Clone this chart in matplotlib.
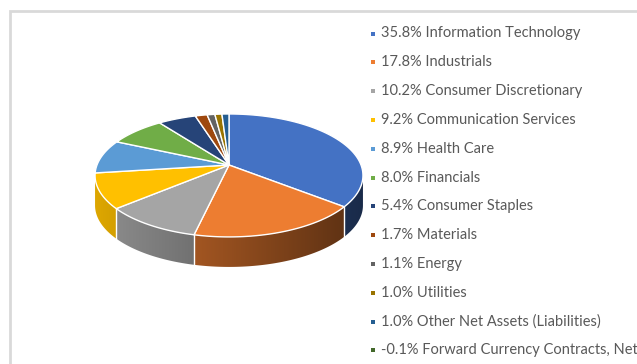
import matplotlib.pyplot as plt
import numpy as np
from matplotlib.colors import to_rgb
from matplotlib.patches import Polygon

# sector weights (%)
sectors = ['Information Technology', 'Industrials', 'Consumer Discretionary',
           'Communication Services', 'Health Care', 'Financials',
           'Consumer Staples', 'Materials', 'Energy', 'Utilities',
           'Other Net Assets (Liabilities)', 'Forward Currency Contracts, Net']
weights = [35.8, 17.8, 10.2, 9.2, 8.9, 8.0, 5.4, 1.7, 1.1, 1.0, 1.0, -0.1]
colors = ['#4472C4', '#ED7D31', '#A5A5A5', '#FFC000', '#5B9BD5', '#70AD47',
          '#264478', '#9E480E', '#636363', '#997300', '#255E91', '#43682B']

W, H = 637, 364
fig = plt.figure(figsize=(W / 100, H / 100), dpi=100)
ax = fig.add_axes([0, 0, 1, 1])

# pie geometry in pixels (tilted disc with a bit of perspective)
CX, CY = 229, 165
RX, RY = 132, 59.7
K = 0.17
DEPTH = 30


def rim(theta):
    u = np.sin(theta)
    v = -np.cos(theta)
    w = 1 - K * v
    return CX + RX * u / w, CY + RY * v / w


vals = np.clip(np.array(weights), 0, None)
bounds = np.concatenate([[0], np.cumsum(vals) / vals.sum() * 2 * np.pi])

# front part of the rim runs between the right- and leftmost points
tt = np.linspace(0, 2 * np.pi, 3601)
xx, _ = rim(tt)
t_right, t_left = tt[np.argmax(xx)], tt[np.argmin(xx)]

# outer wall with a left-to-right darkening gradient
gx = np.linspace(80, 380, 600)
fac = np.clip(0.86 - 0.00185 * (gx - 100), 0.3, 1.0)
for i, c in enumerate(colors):
    a0, a1 = max(bounds[i], t_right), min(bounds[i + 1], t_left)
    if a1 <= a0:
        continue
    t = np.linspace(a0, a1, 200)
    xs, ys = rim(t)
    pts = list(zip(xs, ys)) + list(zip(xs[::-1], ys[::-1] + DEPTH))
    wall = Polygon(pts, closed=True, facecolor='none', edgecolor='none')
    ax.add_patch(wall)
    img = np.ones((2, len(gx), 3)) * np.array(to_rgb(c))
    img *= fac[None, :, None]
    im = ax.imshow(img, extent=(gx[0], gx[-1], 300, 100), aspect='auto',
                   interpolation='bilinear', zorder=1)
    im.set_clip_path(wall)

# white seams on the wall
for a in bounds[:-1]:
    if t_right < a < t_left:
        x, y = rim(a)
        ax.plot([x, x], [y, y + DEPTH], color='white', lw=1.0, zorder=2)

# top faces
for i, c in enumerate(colors):
    a0, a1 = bounds[i], bounds[i + 1]
    if a1 - a0 <= 0:
        continue
    t = np.linspace(a0, a1, max(int((a1 - a0) / 0.01), 2))
    xs, ys = rim(t)
    pts = [(CX, CY)] + list(zip(xs, ys))
    ax.add_patch(Polygon(pts, closed=True, facecolor=c, edgecolor='white',
                         lw=1.0, joinstyle='round', zorder=3))

# legend
for i, (name, val, c) in enumerate(zip(sectors, weights, colors)):
    y = 33.5 + i * 28.8
    ax.add_patch(plt.Rectangle((370.5, y - 2), 4, 4, color=c, lw=0, zorder=3))
    ax.text(381, y, f'{val:.1f}% {name}', fontsize=10.5, color='#595959',
            family='Lato', va='center', ha='left')

# chart border
ax.plot([9.5, 9.5, W + 2], [H + 2, 10.5, 10.5], color='#D9D9D9', lw=2,
        solid_joinstyle='miter')

ax.set_xlim(0, W)
ax.set_ylim(H, 0)
ax.axis('off')
fig.savefig('out.png', dpi=100)
